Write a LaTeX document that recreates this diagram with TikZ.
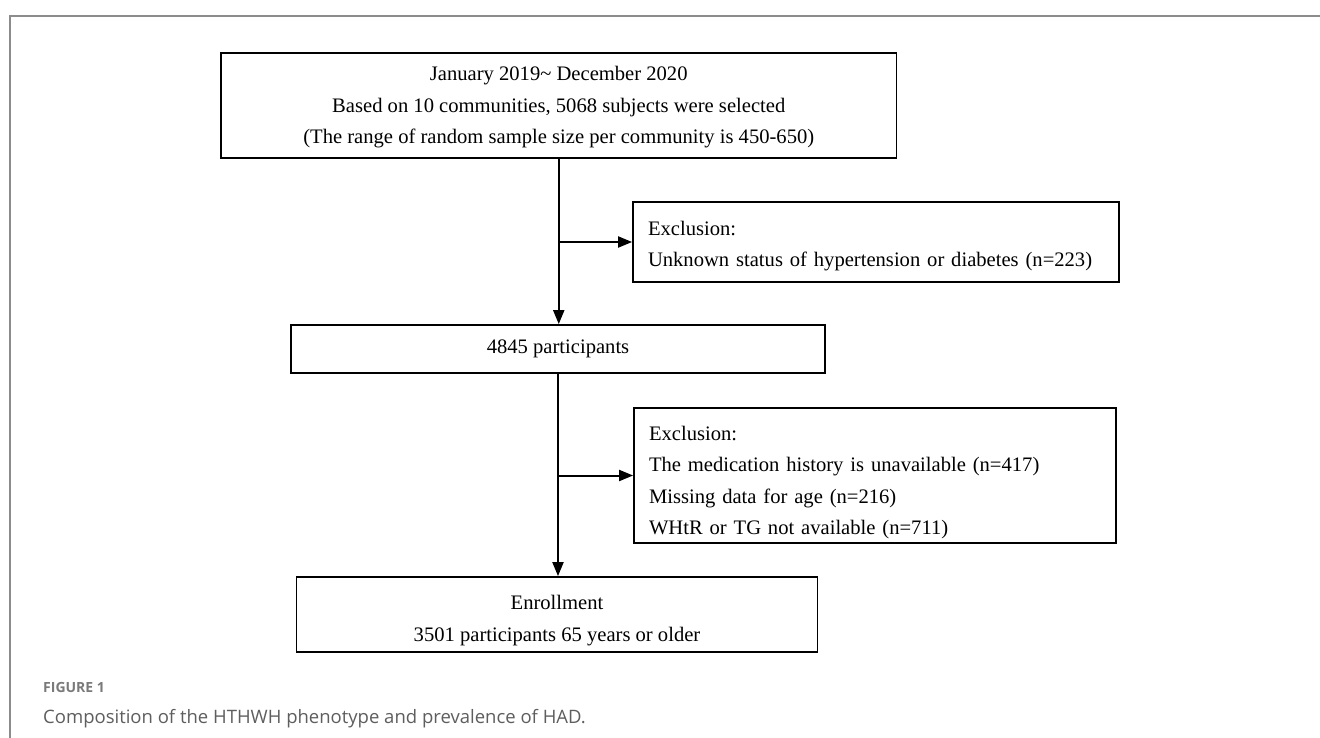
\documentclass[tikz,border=0pt]{standalone}
\usepackage{fontspec}
\setmainfont{Liberation Serif}
\newfontfamily\capfont{Open Sans}
\usetikzlibrary{arrows.meta}
\definecolor{framegray}{HTML}{8C8C8C}
\definecolor{capgray}{HTML}{5E5E5E}
\definecolor{figgray}{HTML}{7A7A7A}
\begin{document}
\begin{tikzpicture}[x=1pt,y=-1pt,
  box/.style={draw=black, line width=1.8pt, inner sep=0pt, font=\fontsize{20.6}{31.5}\selectfont},
  arr/.style={line width=2pt, -{Triangle[length=14pt,width=11pt]}}]
\useasboundingbox (0,0) rectangle (1320,738);
\fill[white] (0,0) rectangle (1320,738);
\draw[framegray, line width=1.5pt] (10,738) -- (10,16) -- (1320,16);

\node[box, minimum width=675.5pt, minimum height=105pt, align=center] (b1) at (558.75,105.5)
  {\rule{0pt}{18pt}January 2019\textasciitilde{} December 2020\\Based on 10 communities, 5068 subjects were selected\\(The range of random sample size per community is 450-650)};
\node[box, minimum width=486pt, minimum height=80pt, text width=456pt, align=left] (e1) at (876,242)
  {\rule{0pt}{22pt}Exclusion:\\Unknown status of hypertension or diabetes (n=223)};
\node[box, minimum width=534pt, minimum height=48pt] (b2) at (558,349) {4845 participants};
\node[box, minimum width=482pt, minimum height=135pt, text width=452pt, align=left] (e2) at (875,475.5)
  {\rule{0pt}{28pt}Exclusion:\\The medication history is unavailable (n=417)\\Missing data for age (n=216)\\WHtR or TG not available (n=711)};
\node[box, minimum width=521pt, minimum height=75pt, align=center] (b3) at (557,614.5)
  {\rule{0pt}{26pt}Enrollment\\3501 participants 65 years or older};

\draw[arr] (b1.south) -- (b1.south |- b2.north);
\coordinate (j1) at (b1.south |- e1.west);
\draw[arr] (j1) -- (e1.west);
\draw[arr] (b2.south) -- (b2.south |- b3.north);
\coordinate (j2) at (b2.south |- e2.west);
\draw[arr] (j2) -- (e2.west);

\node[anchor=base west, inner sep=0pt, text=figgray, font=\capfont\bfseries\fontsize{14}{16}\selectfont] (fig) at (43,692) {FIGURE 1};
\node[anchor=base west, inner sep=0pt, text=capgray, font=\capfont\fontsize{18.5}{20}\selectfont] (cap) at (43,723) {Composition of the HTHWH phenotype and prevalence of HAD.};
\end{tikzpicture}
\end{document}
